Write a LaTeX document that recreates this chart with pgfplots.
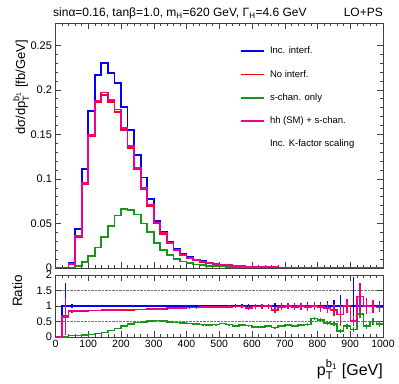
\documentclass[border=0pt]{standalone}
\usepackage{amsmath}
\usepackage{fontspec}
\setmainfont{Liberation Sans}
\usepackage{pgfplots}
\usepackage{pgfplotstable}
\pgfplotsset{compat=1.18}

\definecolor{rootgreen}{RGB}{25,150,25}

% 20 GeV bins, left edges; last row repeats the last bin to close the step
\pgfplotstableread{
x    inc      noint    schan    hhs
0    0        0        0        0
20   0.0004   0.0003   0        0.0002
40   0.006    0.0048   0.0003   0.0045
60   0.0435   0.035    0.002    0.036
80   0.111    0.094    0.007    0.095
100  0.176    0.148    0.0135   0.1495
120  0.217    0.186    0.023    0.1877
140  0.230    0.194    0.035    0.197
160  0.219    0.186    0.047    0.189
180  0.2075   0.175    0.059    0.178
200  0.1806   0.155    0.066    0.157
220  0.155    0.135    0.065    0.137
240  0.127    0.111    0.060    0.112
260  0.1015   0.089    0.050    0.0896
280  0.077    0.070    0.040    0.0708
300  0.053    0.0505   0.028    0.051
320  0.040    0.0385   0.020    0.039
340  0.0295   0.0275   0.0145   0.028
360  0.0215   0.0200   0.010    0.0202
380  0.016    0.0149   0.0072   0.0150
400  0.012    0.0113   0.0053   0.0114
420  0.0092   0.0087   0.0039   0.0088
440  0.0075   0.0071   0.0030   0.0072
460  0.0060   0.0058   0.0023   0.0058
480  0.0048   0.0046   0.0019   0.0047
500  0.0039   0.0038   0.0017   0.0038
520  0.0032   0.0031   0.0013   0.0031
540  0.0026   0.0025   0.00094  0.0026
560  0.0021   0.0021   0.0008   0.0021
580  0.0017   0.0016   0.00063  0.0016
600  0.0014   0.0014   0.00046  0.0014
620  0.00115  0.0011   0.00038  0.0011
640  0.00095  0.00094  0.00033  0.00095
660  0.0008   0.0007   0.00024  0.0007
680  0.00066  0.00064  0.00024  0.00064
700  0.00055  0.00054  0.00021  0.00055
720  0.00046  0.00045  0.00017  0.00045
740  0.00039  0.00039  0.00015  0.00039
760  0.00033  0.00031  0.00013  0.00032
780  0.00028  0.00028  0.00017  0.00028
800  0.00024  0.00023  0.00013  0.00023
820  0.0002   0.00019  0.00009  0.00019
840  0.00017  0.00015  0.00007  0.00015
860  0.00015  0.00011  0.00003  0.00011
880  0.00013  0.00013  0.000045 0.00013
900  0.00011  0.00006  0.000028 0.00006
920  0.0001   0.00013  0.000075 0.00013
940  0.00008  0.00008  0.000028 0.00008
960  0.00007  0.00007  0.000035 0.00007
980  0.00006  0.00006  0.000025 0.00006
1000 0.00006  0.00006  0.000025 0.00006
}\mainhist

% ratios to "Inc. interf." with their errors
\pgfplotstableread{
x    rinc eip  eim  rnoint en   rschan es   rhhs  eh
0    0    0    0    0      0    0      0    0     0
20   1    0.74 0.00 0.67   0.59 0.00   0    0.65  0.60
40   1    0.05 0.05 0.83   0.04 0.05   0.02 0.84  0.04
60   1    0.01 0.01 0.84   0.01 0.05   0.01 0.85  0.01
80   1    0.01 0.01 0.845  0.01 0.07   0.01 0.855 0.01
100  1    0    0    0.85   0    0.08   0    0.86  0
120  1    0    0    0.85   0    0.11   0    0.86  0
140  1    0    0    0.855  0    0.15   0    0.865 0
160  1    0    0    0.86   0    0.21   0    0.87  0
180  1    0    0    0.865  0    0.28   0    0.875 0
200  1    0    0    0.87   0    0.36   0    0.88  0
220  1    0    0    0.875  0    0.42   0    0.885 0
240  1    0    0    0.88   0    0.47   0    0.89  0
260  1    0    0    0.885  0    0.49   0    0.895 0
280  1    0    0    0.89   0    0.52   0    0.90  0
300  1    0    0    0.90   0    0.53   0    0.91  0
320  1    0    0    0.91   0    0.51   0    0.92  0
340  1    0    0    0.92   0    0.49   0    0.93  0
360  1    0    0    0.93   0    0.47   0    0.935 0
380  1    0.01 0.01 0.935  0.01 0.45   0.01 0.94  0.01
400  1    0.02 0.02 0.945  0.02 0.44   0.01 0.95  0.02
420  1    0.02 0.02 0.95   0.02 0.42   0.01 0.955 0.02
440  1    0.03 0.03 0.955  0.03 0.40   0.01 0.96  0.03
460  1    0.03 0.03 0.96   0.03 0.38   0.02 0.965 0.03
480  1    0.03 0.03 0.965  0.03 0.40   0.02 0.97  0.03
500  1    0.04 0.04 0.97   0.04 0.44   0.02 0.975 0.04
520  1    0.04 0.04 0.975  0.04 0.40   0.02 0.98  0.04
540  1    0.05 0.05 0.98   0.05 0.36   0.02 0.985 0.05
560  1    0.05 0.05 0.985  0.05 0.38   0.02 0.99  0.05
580  1    0.06 0.06 0.92   0.06 0.37   0.02 0.93  0.06
600  1    0.07 0.07 0.985  0.07 0.33   0.03 0.99  0.07
620  1    0.07 0.07 0.985  0.07 0.33   0.03 0.99  0.07
640  1    0.08 0.08 0.99   0.08 0.35   0.03 1.0   0.08
660  1    0.09 0.09 0.87   0.09 0.30   0.03 0.88  0.09
680  1    0.09 0.09 0.96   0.09 0.36   0.03 0.97  0.09
700  1    0.10 0.10 0.99   0.10 0.38   0.04 1.0   0.10
720  1    0.10 0.10 0.97   0.10 0.36   0.04 0.98  0.10
740  1    0.11 0.11 0.99   0.11 0.38   0.04 1.0   0.11
760  1    0.12 0.12 0.95   0.12 0.40   0.05 0.96  0.12
780  1    0.13 0.13 0.99   0.13 0.60   0.06 1.0   0.13
800  1    0.14 0.14 0.95   0.14 0.55   0.06 0.96  0.14
820  1    0.16 0.16 0.93   0.16 0.45   0.06 0.94  0.16
840  1    0.18 0.18 0.87   0.18 0.42   0.07 0.88  0.18
860  1    0.35 0.35 0.72   0.35 0.20   0.07 0.72  0.30
880  1    0.22 0.22 1.0    0.22 0.35   0.08 1.02  0.22
900  1    0.95 0.60 0.52   0.15 0.25   0.08 0.52  0.15
920  1    0.30 0.30 1.30   0.45 0.75   0.15 1.30  0.45
940  1    0.25 0.25 1.0    0.25 0.35   0.08 1.0   0.25
960  1    0.20 0.20 0.98   0.20 0.50   0.10 0.98  0.20
980  1    0.15 0.15 0.95   0.15 0.42   0.10 0.95  0.15
1000 1    0    0    0.95   0    0.42   0    0.95  0
}\ratiohist

\pgfplotsset{
  rootpad/.style={
    scale only axis, width=327.5pt,
    xmin=0, xmax=1000,
    axis line style={black!75, line width=0.7pt},
    tick align=inside, tick pos=both,
    tick style={black!75, line width=0.5pt},
    major tick length=6pt, minor tick length=3pt,
    xtick distance=100, minor x tick num=4,
    /pgf/number format/assume math mode=true,
    /pgf/number format/fixed,
    /pgf/number format/precision=2,
    /pgf/number format/1000 sep={},
    scaled y ticks=false, scaled x ticks=false,
  },
  hist/.style={const plot mark left, line width=1.8pt},
  errs/.style={draw=none, forget plot, error bars/.cd, y dir=both, y explicit,
    error mark=none, error bar style={draw=#1, line width=1.4pt}},
}

\begin{document}
\begin{tikzpicture}
\useasboundingbox (0pt,0pt) rectangle (399pt,383pt);

% upper pad
\begin{axis}[rootpad,
  at={(55.5pt,115pt)}, anchor=south west, height=245pt,
  ymin=0, ymax=0.275,
  ytick={0,0.05,0.1,0.15,0.2,0.25}, minor y tick num=4,
  xticklabels={},
  yticklabel style={font=\fontsize{11}{11}\selectfont},
  legend style={at={(rel axis cs:0.5634,0.904)}, anchor=north west,
    draw=none, fill=none, font=\fontsize{9.5}{9.5}\selectfont,
    inner sep=0pt, row sep=14.3pt,
    nodes={inner sep=0pt, text height=7pt, text depth=2pt}},
  /tikz/every odd column/.append style={column sep=5pt},
  legend cell align=left,
  legend image code/.code={\draw[#1, line width=1.8pt] (0pt,0pt) -- (23pt,0pt);},
]
\addplot[hist, blue] table[x=x, y=inc] {\mainhist};
\addlegendentry{Inc. interf.}
\addplot[hist, red] table[x=x, y=noint] {\mainhist};
\addlegendentry{No interf.}
\addplot[hist, rootgreen] table[x=x, y=schan] {\mainhist};
\addlegendentry{s-chan. only}
\addplot[hist, magenta] table[x=x, y=hhs] {\mainhist};
\addlegendentry{hh (SM) + s-chan.}
\addlegendimage{empty legend}
\addlegendentry{Inc. K-factor scaling}
\end{axis}

% ratio pad
\begin{axis}[rootpad,
  at={(55.5pt,46pt)}, anchor=south west, height=62pt,
  ymin=0, ymax=2,
  ytick={0,0.5,1,1.5,2},
  ymajorgrids, grid style={densely dotted, black!55, line width=0.5pt},
  xticklabel style={font=\fontsize{10.5}{10.5}\selectfont},
  yticklabel style={font=\fontsize{11}{11}\selectfont},
]
\addplot[hist, blue, line width=1.5pt] table[x=x, y=rinc] {\ratiohist};
\addplot[errs=blue]
  table[x expr=\thisrow{x}+10, y=rinc, y error plus=eip, y error minus=eim] {\ratiohist};
\addplot[hist, red, line width=1.5pt] table[x=x, y=rnoint] {\ratiohist};
\addplot[errs=red]
  table[x expr=\thisrow{x}+10, y=rnoint, y error=en] {\ratiohist};
\addplot[hist, rootgreen, line width=1.5pt] table[x=x, y=rschan] {\ratiohist};
\addplot[errs=rootgreen]
  table[x expr=\thisrow{x}+10, y=rschan, y error=es] {\ratiohist};
\addplot[hist, magenta, line width=1.5pt] table[x=x, y=rhhs] {\ratiohist};
\addplot[errs=magenta]
  table[x expr=\thisrow{x}+10, y=rhhs, y error=eh] {\ratiohist};
\end{axis}

% titles and labels
\node[anchor=base west, font=\fontsize{12}{12}\selectfont, inner sep=0pt]
  at (53pt,366.5pt) {sinα=0.16, tanβ=1.0, m$_{\text{H}}$=620 GeV, Γ$_{\text{H}}$=4.6 GeV};
\node[anchor=base east, font=\fontsize{12}{12}\selectfont, inner sep=0pt]
  at (383pt,366.5pt) {LO+PS};
\node[anchor=base east, rotate=90, font=\fontsize{13}{13}\selectfont, inner sep=0pt]
  at (25pt,343pt) {dσ/d$\text{p}_{\text{T}}^{\text{b}_{\text{1}}}$ [fb/GeV]};
\node[anchor=base, rotate=90, font=\fontsize{13.5}{13.5}\selectfont, inner sep=0pt]
  at (22pt,92pt) {Ratio};
\node[anchor=base east, font=\fontsize{16}{16}\selectfont, inner sep=0pt]
  at (383pt,8pt) {$\text{p}_{\text{T}}^{\text{b}_{\text{1}}}$ [GeV]};
\end{tikzpicture}
\end{document}
